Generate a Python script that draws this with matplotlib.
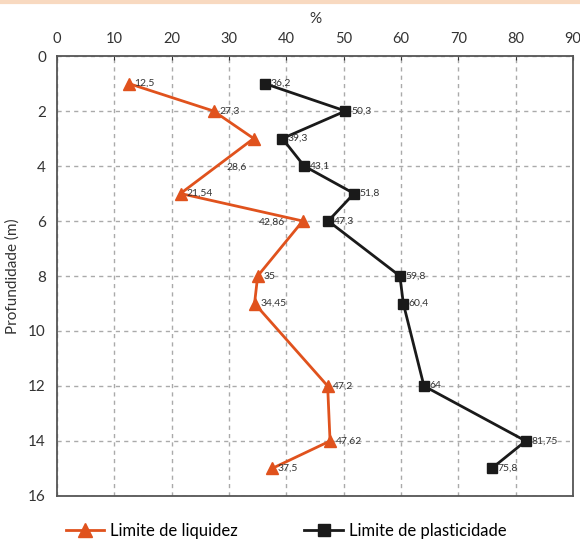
import matplotlib.pyplot as plt
from matplotlib.lines import Line2D

plt.rcParams['font.family'] = ['Lato', 'DejaVu Sans']

# Limite de liquidez
ll_depth = [1, 2, 3, 5, 6, 8, 9, 12, 14, 15]
ll_value = [12.5, 27.3, 34.3, 21.54, 42.86, 35, 34.45, 47.2, 47.62, 37.5]
ll_label = ["12,5", "27,3", "28,6", "21,54", "42,86", "35", "34,45", "47,2", "47,62", "37,5"]

# Limite de plasticidade
lp_depth = [1, 2, 3, 4, 5, 6, 8, 9, 12, 14, 15]
lp_value = [36.2, 50.3, 39.3, 43.1, 51.8, 47.3, 59.8, 60.4, 64, 81.75, 75.8]
lp_label = ["36,2", "50,3", "39,3", "43,1", "51,8", "47,3", "59,8", "60,4", "64", "81,75", "75,8"]

orange = "#e0521d"
black = "#1a1a1a"

fig = plt.figure(figsize=(5.8, 5.46), dpi=100)
ax = fig.add_axes([0.0983, 0.0916, 0.8897, 0.8058])

ax.plot(ll_value, ll_depth, color=orange, lw=2, marker="^", ms=9, zorder=3)
ax.plot(lp_value, lp_depth, color=black, lw=2, marker="s", ms=7, zorder=3)

lbl = dict(fontsize=7.5, color="#333333", va="center", textcoords="offset points")
for x, y, t in zip(ll_value, ll_depth, ll_label):
    if t == "28,6":
        ax.annotate(t, (x, y), xytext=(-12, -21), ha="center", **lbl)
    elif t == "42,86":
        ax.annotate(t, (x, y), xytext=(-13, -1), ha="right", **lbl)
    else:
        ax.annotate(t, (x, y), xytext=(4, 0), ha="left", **lbl)
for x, y, t in zip(lp_value, lp_depth, lp_label):
    ax.annotate(t, (x, y), xytext=(4, 0), ha="left", **lbl)

ax.set_xlim(0, 90)
ax.set_ylim(16, 0)
ax.set_xticks(range(0, 91, 10))
ax.set_yticks(range(0, 17, 2))
ax.xaxis.tick_top()
ax.xaxis.set_label_position("top")
ax.set_xlabel("%", fontsize=11, color="#333333", labelpad=7)
ax.set_ylabel("Profundidade (m)", fontsize=11, color="#333333", labelpad=6)
ax.tick_params(axis="x", direction="in", length=3, labelsize=10.5, colors="#333333", pad=7)
ax.tick_params(axis="y", length=0, labelsize=11, colors="#333333", pad=8)
ax.grid(True, color="#aaaaaa", linestyle=(0, (3, 3)), linewidth=1)
for s in ax.spines.values():
    s.set_color("#555555")
    s.set_linewidth(1.3)

handles = [Line2D([], [], color=orange, lw=2, marker="^", ms=10),
           Line2D([], [], color=black, lw=2, marker="s", ms=8)]
fig.legend(handles, ["Limite de liquidez", "Limite de plasticidade"],
           loc="center", bbox_to_anchor=(0.493, 0.027), ncol=2, frameon=False,
           fontsize=12, handlelength=2.3, columnspacing=4.0, handletextpad=0.35)

fig.add_artist(Line2D([0, 1], [0.997, 0.997], color="#f8d9c0", lw=3,
                      transform=fig.transFigure))

fig.savefig("out.png", dpi=100)
